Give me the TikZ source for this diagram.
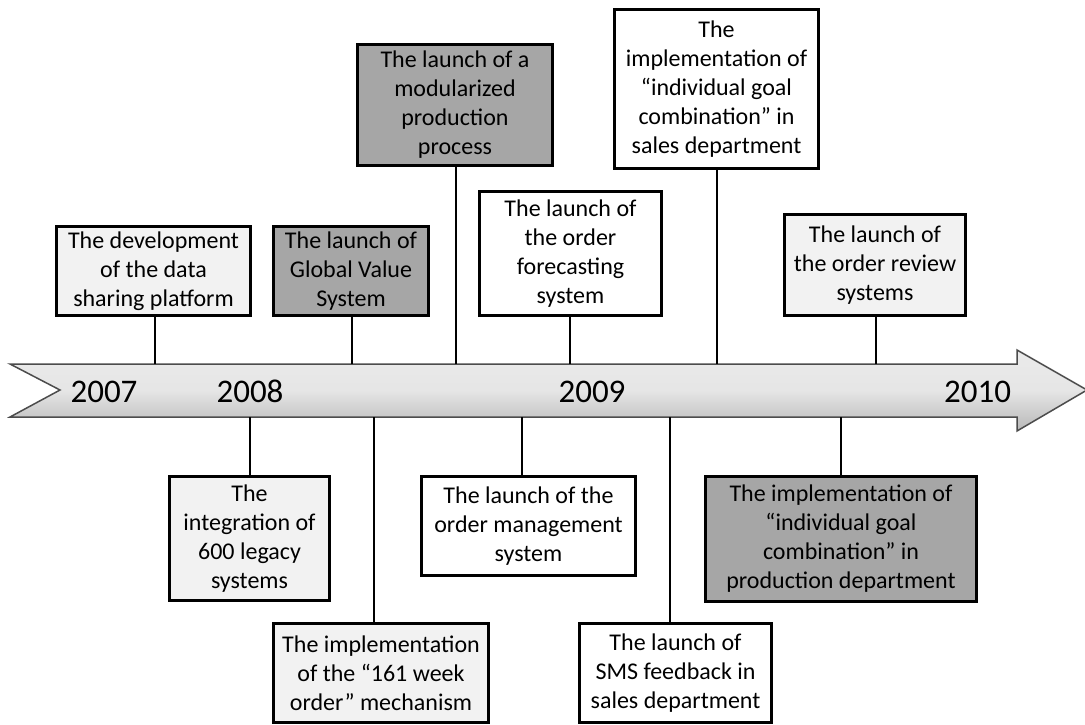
\documentclass[tikz,border=0pt]{standalone}
\usepackage{fontspec}
\setmainfont{Carlito}
\definecolor{paleevt}{HTML}{F2F2F2}
\definecolor{darkevt}{HTML}{A6A6A6}
\begin{document}
\begin{tikzpicture}[x=1pt,y=-1pt,
  evt/.style={draw=black, line width=3.5pt, align=center, inner sep=0pt,
    font=\fontsize{24}{29}\selectfont},
  pale/.style={evt, fill=paleevt},
  dark/.style={evt, fill=darkevt},
  plain/.style={evt, fill=white},
  year/.style={font=\fontsize{33}{38}\selectfont, inner sep=0pt, anchor=base},
  link/.style={draw=black, line width=2pt}]
\useasboundingbox (0,0) rectangle (1085,724);

% timeline arrow
\path[draw=black!70, line width=1.5pt, top color=black!8, bottom color=black!28,
      middle color=black!10, line join=miter]
  (10,364) -- (1017,364) -- (1017,350) -- (1087,390) -- (1017,431)
  -- (1017,417) -- (10,417) -- (60,390) -- cycle;

\node[year] (y2007) at (104,402) {2007};
\node[year] (y2008) at (250,402) {2008};
\node[year] (y2009) at (592,402) {2009};
\node[year] (y2010) at (977.5,402) {2010};

% attachment points on the arrow edges
\coordinate (t1) at (155,364);
\coordinate (t2) at (352,364);
\coordinate (t3) at (456,364);
\coordinate (t4) at (570,364);
\coordinate (t5) at (717,364);
\coordinate (t6) at (876,364);
\coordinate (t7) at (250,417);
\coordinate (t8) at (374,417);
\coordinate (t9) at (522,417);
\coordinate (t10) at (670,417);
\coordinate (t11) at (841,417);

% events above the timeline
\node[pale, minimum width=194, minimum height=89] (e1) at (153.5,271)
  {The development\\of the data\\sharing platform};
\node[dark, minimum width=155, minimum height=89] (e2) at (351,271)
  {The launch of\\Global Value\\System};
\node[dark, minimum width=195, minimum height=121] (e3) at (455,105)
  {The launch of a\\modularized\\production\\process};
\node[plain, minimum width=182, minimum height=124] (e4) at (570.5,253.5)
  {The launch of\\the order\\forecasting\\system};
\node[plain, minimum width=204, minimum height=159] (e5) at (716.5,89)
  {The\\implementation of\\“individual goal\\combination” in\\sales department};
\node[pale, minimum width=181, minimum height=101] (e6) at (875,265)
  {The launch of\\the order review\\systems};

% events below the timeline
\node[pale, minimum width=160, minimum height=124] (e7) at (249.5,538.5)
  {The\\integration of\\600 legacy\\systems};
\node[pale, minimum width=215, minimum height=99] (e8) at (381,673)
  {The implementation\\of the “161 week\\order” mechanism};
\node[plain, minimum width=214, minimum height=99] (e9) at (528.5,526)
  {The launch of the\\order management\\system};
\node[plain, minimum width=192, minimum height=99] (e10) at (675.5,673)
  {The launch of\\SMS feedback in\\sales department};
\node[dark, minimum width=271, minimum height=125] (e11) at (841,539)
  {The implementation of\\“individual goal\\combination” in\\production department};

% connectors
\foreach \i in {1,...,6} {
  \draw[link] (t\i |- e\i.south) -- (t\i);
}
\foreach \i in {7,...,11} {
  \draw[link] (t\i) -- (t\i |- e\i.north);
}
\end{tikzpicture}
\end{document}
